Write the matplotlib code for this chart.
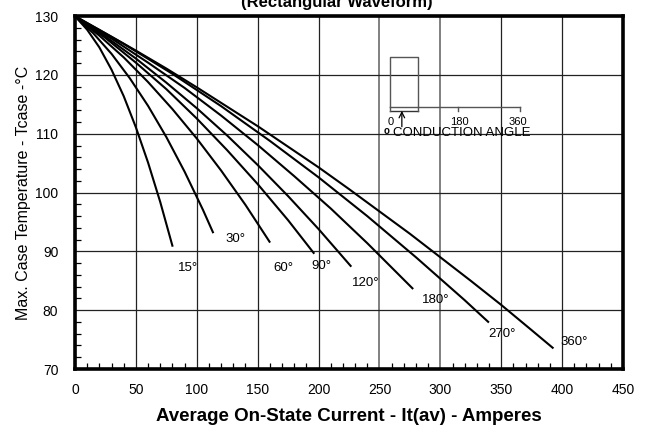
import matplotlib
matplotlib.use("Agg")
import matplotlib.pyplot as plt
from matplotlib.ticker import MultipleLocator

plt.rcParams['font.family'] = ['Liberation Sans', 'DejaVu Sans']

# ---- data ----
x15 = [0, 10, 20, 30, 40, 50, 60, 70, 80.2]
y15 = [130, 127.7, 124.7, 120.9, 116.4, 111.1, 105.1, 98.4, 90.8]

x30 = [0, 15, 30, 45, 60, 75, 90, 105, 113.6]
y30 = [130, 127.1, 123.6, 119.45, 114.75, 109.45, 103.56, 97.1, 93.1]

x60 = [0, 20, 40, 60, 80, 100, 120, 140, 160.2]
y60 = [130, 126.7, 123.0, 118.8, 114.2, 109.2, 103.75, 97.9, 91.5]

x90 = [0, 25, 50, 75, 100, 125, 150, 175, 196.5]
y90 = [130, 126.3, 122.1, 117.6, 112.6, 107.2, 101.45, 95.3, 89.6]

x120 = [0, 25, 50, 75, 100, 125, 150, 175, 200, 226.9]
y120 = [130, 126.55, 122.8, 118.7, 114.35, 109.7, 104.7, 99.4, 93.8, 87.4]

x180 = [0, 30, 60, 90, 120, 150, 180, 210, 240, 277.7]
y180 = [130, 126.2, 122.1, 117.8, 113.1, 108.1, 102.8, 97.3, 91.4, 83.6]

x270 = [0, 40, 80, 120, 160, 200, 240, 280, 320, 339.9]
y270 = [130, 125.3, 120.2, 114.7, 108.8, 102.6, 96.0, 89.0, 81.7, 77.9]

x360 = [0, 25, 50, 75, 100, 125, 150, 175, 200, 225, 250, 275, 300, 325, 350, 375, 392.9]
y360 = [130, 127.1, 124.15, 121.1, 117.9, 114.6, 111.3, 107.8, 104.3, 100.6, 96.8, 93.0, 89.0, 85.0, 80.9, 76.6, 73.5]

curve_labels = ["15°", "30°", "60°", "90°", "120°", "180°", "270°", "360°"]
label_x = [93.1, 131.4, 171.2, 202.0, 238.4, 296.1, 350.4, 409.9]
label_y = [87.1, 92.1, 87.1, 87.6, 84.7, 81.7, 75.9, 74.6]

xticks = [0, 50, 100, 150, 200, 250, 300, 350, 400, 450]
yticks = [70, 80, 90, 100, 110, 120, 130]

curves = [(x15, y15), (x30, y30), (x60, y60), (x90, y90),
          (x120, y120), (x180, y180), (x270, y270), (x360, y360)]

fig = plt.figure(figsize=(6.49, 4.36), dpi=100)
ax = fig.add_axes([75/649, 1-369/436, (623-75)/649, (369-16.2)/436])

ax.set_xlim(0, 450)
ax.set_ylim(70, 130)
ax.set_xticks(xticks)
ax.set_yticks(yticks)
ax.xaxis.set_minor_locator(MultipleLocator(10))
ax.yaxis.set_minor_locator(MultipleLocator(2))
ax.tick_params(which='both', direction='in', top=False, right=False, labelsize=10)
ax.tick_params(which='major', length=0)
ax.tick_params(which='minor', length=4, width=0.9)
ax.tick_params(axis='x', pad=10)
ax.tick_params(axis='y', pad=12)

ax.grid(True, which='major', color='#222222', linewidth=0.9)
for gl, xv in zip(ax.get_xgridlines(), xticks):
    if xv in (250, 300):
        gl.set_color('#808080')
        gl.set_linewidth(1.4)
ax.set_axisbelow(True)

for sp in ax.spines.values():
    sp.set_linewidth(2.6)
    sp.set_color('black')

for (xs, ys) in curves:
    ax.plot(xs, ys, color='black', linewidth=1.5, solid_capstyle='butt')

for t, lx, ly in zip(curve_labels, label_x, label_y):
    ax.text(lx, ly, t, ha='center', va='center', fontsize=9.5)

# inset: conduction angle diagram
gcol = '#555555'
ax.plot([258.8, 258.8, 281.3, 281.3], [114.6, 123.1, 123.1, 114.6], color=gcol, lw=1.0)
ax.plot([258.8, 365.7], [114.6, 114.6], color=gcol, lw=1.0)
ax.plot([258.8, 281.3], [113.9, 113.9], color='#333333', lw=1.0)
for tx in (258.8, 281.3, 314.7, 365.7):
    ax.plot([tx, tx], [114.6, 113.9], color=gcol, lw=1.0)
ax.annotate('', xy=(268.4, 113.9), xytext=(268.4, 111.2),
            arrowprops=dict(arrowstyle='->', color='black', lw=0.9,
                            shrinkA=0, shrinkB=0))
for t, tx in (("0", 259.4), ("180", 315.8), ("360", 363.8)):
    ax.text(tx, 112.06, t, ha='center', va='center', fontsize=8)
ax.text(256.1, 110.4, "o", ha='center', va='center', fontsize=7, fontweight='bold')
ax.text(261.5, 110.2, "CONDUCTION ANGLE", ha='left', va='center', fontsize=9.5)

ax.set_xlabel("Average On-State Current - It(av) - Amperes", fontsize=13.5,
              fontweight='bold', labelpad=8)
ax.set_ylabel("Max. Case Temperature - Tcase -°C", fontsize=11.5, labelpad=3)

fig.text(337/649, 1-7/436, "(Rectangular Waveform)", ha='center', va='baseline',
         fontsize=12, fontweight='bold')

fig.savefig("out.png", dpi=100)
